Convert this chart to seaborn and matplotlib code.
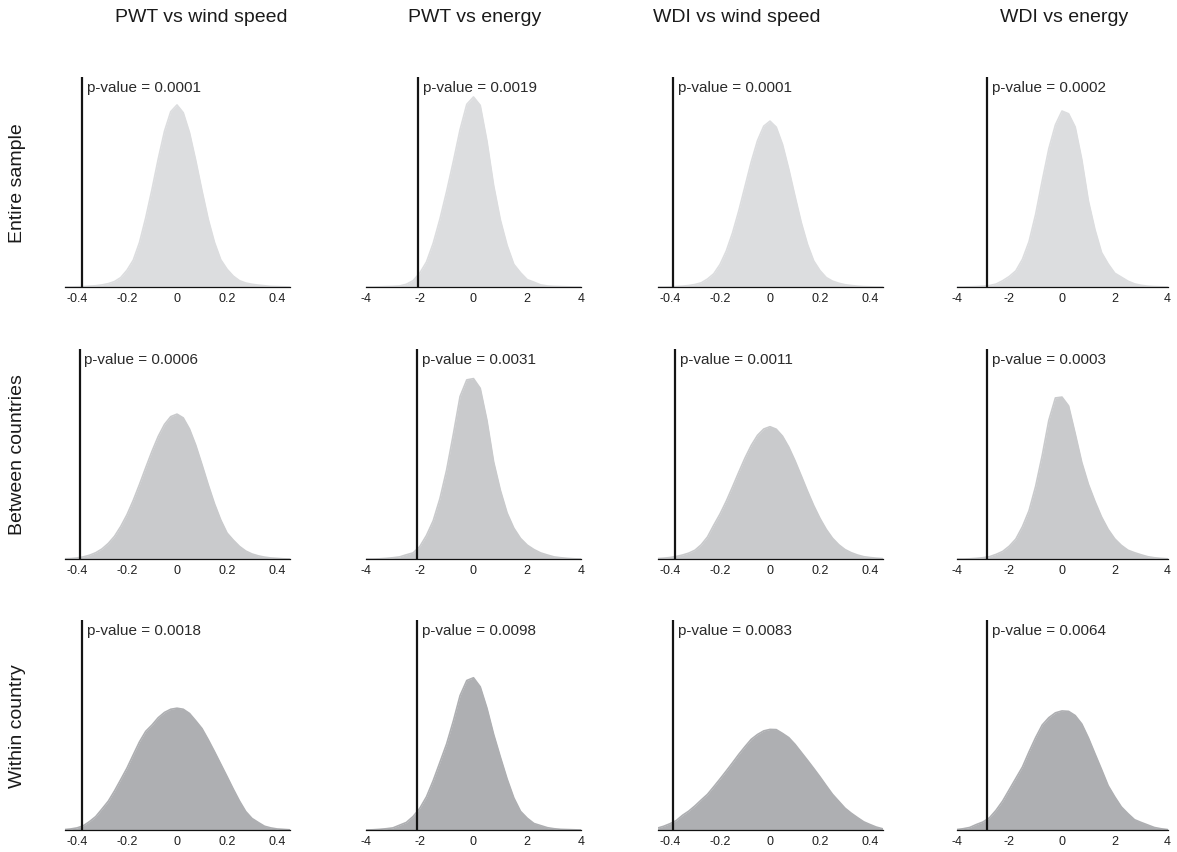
import matplotlib
matplotlib.use("Agg")
import matplotlib.pyplot as plt
import seaborn as sns

sns.set_theme(style="white")
plt.rcParams["font.family"] = ["Liberation Sans", "DejaVu Sans"]

# Evaluation grids of the permutation densities
SPEED_GRID = [-0.45, -0.425, -0.4, -0.375, -0.35, -0.325, -0.3, -0.275, -0.25,
              -0.225, -0.2, -0.175, -0.15, -0.125, -0.1, -0.075, -0.05, -0.025,
              0.0, 0.025, 0.05, 0.075, 0.1, 0.125, 0.15, 0.175, 0.2, 0.225,
              0.25, 0.275, 0.3, 0.325, 0.35, 0.375, 0.4, 0.425, 0.45]
ENERGY_GRID = [-4.0, -3.75, -3.5, -3.25, -3.0, -2.75, -2.5, -2.25, -2.0, -1.75,
               -1.5, -1.25, -1.0, -0.75, -0.5, -0.25, 0.0, 0.25, 0.5, 0.75, 1.0,
               1.25, 1.5, 1.75, 2.0, 2.25, 2.5, 2.75, 3.0, 3.25, 3.5, 3.75, 4.0]

col_titles = ["PWT vs wind speed", "PWT vs energy", "WDI vs wind speed", "WDI vs energy"]
row_labels = ["Entire sample", "Between countries", "Within country"]

# Density of the permuted coefficient (relative height)
pwt_speed_entire = [0.0, 0.0, 0.001, 0.002, 0.004, 0.006, 0.010, 0.016, 0.026, 0.045, 0.080,
                    0.128, 0.212, 0.330, 0.465, 0.610, 0.742, 0.835, 0.867, 0.830, 0.735,
                    0.602, 0.458, 0.322, 0.212, 0.130, 0.085, 0.052, 0.030, 0.019, 0.013,
                    0.009, 0.006, 0.003, 0.002, 0.001, 0.0]
pwt_energy_entire = [0.0, 0.0, 0.001, 0.002, 0.003, 0.005, 0.013, 0.030, 0.066, 0.119, 0.208,
                     0.323, 0.455, 0.598, 0.749, 0.870, 0.905, 0.865, 0.695, 0.483, 0.319,
                     0.198, 0.108, 0.068, 0.035, 0.023, 0.010, 0.005, 0.003, 0.002, 0.001,
                     0.0, 0.0]
wdi_speed_entire = [0.0, 0.0, 0.001, 0.002, 0.004, 0.007, 0.012, 0.020, 0.038, 0.063, 0.107,
                    0.171, 0.257, 0.362, 0.479, 0.596, 0.697, 0.766, 0.790, 0.761, 0.679,
                    0.562, 0.432, 0.307, 0.203, 0.124, 0.078, 0.045, 0.028, 0.018, 0.011,
                    0.007, 0.004, 0.002, 0.001, 0.0, 0.0]
wdi_energy_entire = [0.0, 0.0, 0.001, 0.002, 0.004, 0.007, 0.014, 0.030, 0.050, 0.077, 0.132,
                     0.216, 0.346, 0.506, 0.658, 0.772, 0.838, 0.825, 0.762, 0.607, 0.410,
                     0.273, 0.164, 0.110, 0.066, 0.047, 0.028, 0.015, 0.008, 0.004, 0.002,
                     0.001, 0.0]

pwt_speed_between = [0.001, 0.002, 0.005, 0.010, 0.018, 0.030, 0.048, 0.074, 0.108, 0.155,
                     0.211, 0.279, 0.355, 0.435, 0.513, 0.584, 0.641, 0.678, 0.690, 0.672,
                     0.619, 0.542, 0.449, 0.353, 0.263, 0.186, 0.124, 0.090, 0.060, 0.038,
                     0.024, 0.015, 0.009, 0.005, 0.003, 0.001, 0.0]
pwt_energy_between = [0.0, 0.0, 0.001, 0.003, 0.006, 0.010, 0.020, 0.029, 0.059, 0.112, 0.182,
                      0.287, 0.424, 0.594, 0.774, 0.853, 0.859, 0.813, 0.660, 0.462, 0.327,
                      0.219, 0.147, 0.098, 0.066, 0.045, 0.029, 0.019, 0.010, 0.006, 0.003,
                      0.001, 0.0]
wdi_speed_between = [0.002, 0.004, 0.007, 0.012, 0.019, 0.028, 0.042, 0.068, 0.105, 0.161,
                     0.214, 0.275, 0.343, 0.413, 0.481, 0.541, 0.589, 0.619, 0.630, 0.618,
                     0.585, 0.533, 0.468, 0.396, 0.323, 0.254, 0.193, 0.141, 0.099, 0.068,
                     0.045, 0.030, 0.019, 0.011, 0.007, 0.004, 0.002]
wdi_energy_between = [0.0, 0.0, 0.001, 0.003, 0.006, 0.011, 0.022, 0.036, 0.061, 0.095, 0.154,
                      0.230, 0.346, 0.493, 0.660, 0.767, 0.771, 0.729, 0.597, 0.460, 0.356,
                      0.274, 0.200, 0.141, 0.096, 0.065, 0.042, 0.030, 0.020, 0.011, 0.006,
                      0.003, 0.001]

pwt_speed_within = [0.002, 0.005, 0.010, 0.020, 0.040, 0.064, 0.100, 0.137, 0.186, 0.240,
                    0.295, 0.358, 0.420, 0.470, 0.500, 0.535, 0.560, 0.575, 0.580, 0.575,
                    0.555, 0.520, 0.483, 0.430, 0.373, 0.314, 0.255, 0.195, 0.138, 0.088,
                    0.055, 0.036, 0.018, 0.010, 0.005, 0.003, 0.001]
pwt_energy_within = [0.0, 0.001, 0.003, 0.006, 0.010, 0.023, 0.036, 0.064, 0.103, 0.158, 0.235,
                     0.322, 0.410, 0.519, 0.640, 0.712, 0.725, 0.682, 0.580, 0.455, 0.347,
                     0.243, 0.153, 0.089, 0.056, 0.031, 0.021, 0.011, 0.006, 0.003, 0.002,
                     0.001, 0.0]
wdi_speed_within = [0.009, 0.018, 0.030, 0.045, 0.070, 0.090, 0.115, 0.143, 0.170, 0.206,
                    0.243, 0.281, 0.320, 0.360, 0.397, 0.432, 0.455, 0.472, 0.479, 0.478,
                    0.460, 0.440, 0.408, 0.370, 0.332, 0.293, 0.253, 0.211, 0.170, 0.137,
                    0.104, 0.080, 0.059, 0.039, 0.026, 0.014, 0.006]
wdi_energy_within = [0.002, 0.006, 0.012, 0.026, 0.038, 0.058, 0.094, 0.138, 0.192, 0.246,
                     0.300, 0.372, 0.440, 0.500, 0.535, 0.558, 0.567, 0.565, 0.545, 0.505,
                     0.439, 0.363, 0.288, 0.211, 0.158, 0.110, 0.078, 0.049, 0.036, 0.024,
                     0.012, 0.006, 0.002]

# Observed coefficients and permutation p-values
observed = [[-0.38, -2.05, -0.39, -2.85],
            [-0.39, -2.10, -0.38, -2.85],
            [-0.38, -2.10, -0.39, -2.85]]
p_values = [["0.0001", "0.0019", "0.0001", "0.0002"],
            ["0.0006", "0.0031", "0.0011", "0.0003"],
            ["0.0018", "0.0098", "0.0083", "0.0064"]]

densities = [[pwt_speed_entire, pwt_energy_entire, wdi_speed_entire, wdi_energy_entire],
             [pwt_speed_between, pwt_energy_between, wdi_speed_between, wdi_energy_between],
             [pwt_speed_within, pwt_energy_within, wdi_speed_within, wdi_energy_within]]

speed_ticks = [-0.4, -0.2, 0, 0.2, 0.4]
speed_ticklabels = ["-0.4", "-0.2", "0", "0.2", "0.4"]
energy_ticks = [-4, -2, 0, 2, 4]
energy_ticklabels = ["-4", "-2", "0", "2", "4"]

# Layout (figure pixels)
W, H = 1177, 853
col_left = [64.5, 366, 657.5, 956.5]
col_width = [225, 215, 225, 211]
row_bottom = [288, 560, 831]
panel_h = 210
title_x = [201, 475, 737, 1064]
row_fill = ["#dcdddf", "#c9cacc", "#aeafb2"]

fig = plt.figure(figsize=(W / 100, H / 100), dpi=100)

for r in range(3):
    for c in range(4):
        speed = c in (0, 2)
        grid = SPEED_GRID if speed else ENERGY_GRID
        dens = densities[r][c]
        ax = fig.add_axes([col_left[c] / W, (H - row_bottom[r]) / H,
                           col_width[c] / W, panel_h / H])
        ax.set_axisbelow(True)
        sns.lineplot(x=grid, y=dens, color=row_fill[r], lw=1.2, ax=ax, zorder=2)
        ax.fill_between(grid, dens, 0, color=row_fill[r], lw=0, zorder=2.1)
        ax.axvline(observed[r][c], 0, 1, color="#141414", lw=1.6, zorder=3)
        ax.annotate(f"p-value = {p_values[r][c]}", xy=(observed[r][c], 1),
                    xycoords=("data", "axes fraction"), xytext=(3.6, -7),
                    textcoords="offset points", ha="left", va="center",
                    fontsize=11, color="#2a2a2a")
        if speed:
            ax.set_xlim(-0.45, 0.45)
            ax.set_xticks(speed_ticks, speed_ticklabels)
        else:
            ax.set_xlim(-4, 4)
            ax.set_xticks(energy_ticks, energy_ticklabels)
        ax.set_ylim(0, 1)
        ax.set_yticks([])
        ax.set_xlabel("")
        ax.set_ylabel("")
        for side in ("top", "right", "left"):
            ax.spines[side].set_visible(False)
        ax.spines["bottom"].set_color("#111111")
        ax.spines["bottom"].set_linewidth(0.9)
        ax.spines["bottom"].set_zorder(2.5)
        ax.tick_params(axis="x", direction="in", length=3, width=0.8,
                       pad=3.5, labelsize=9, color="#111111", labelcolor="#1e1e1e")
        ax.patch.set_alpha(0)

for c, t in enumerate(col_titles):
    fig.text(title_x[c] / W, 1 - 18 / H, t, ha="center", va="center",
             fontsize=14, color="#1a1a1a")

for r, lab in enumerate(row_labels):
    yc = (H - row_bottom[r] + panel_h / 2) / H
    fig.text(17.5 / W, yc, lab, rotation=90, ha="center", va="center",
             fontsize=14, color="#1a1a1a")

fig.savefig("out.png", dpi=100)
